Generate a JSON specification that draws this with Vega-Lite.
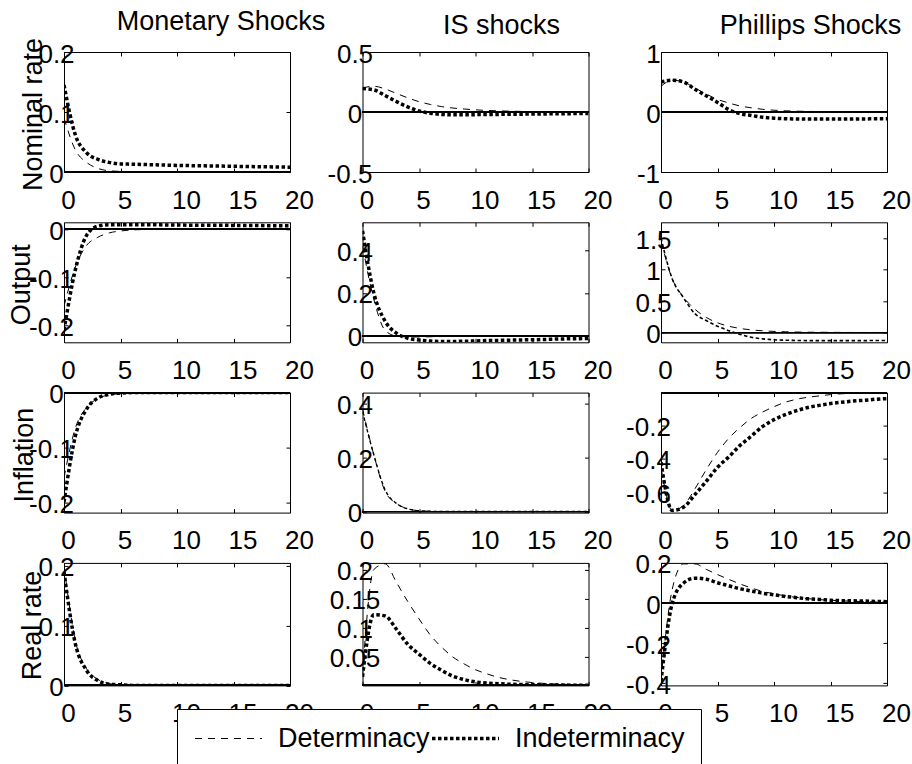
{
"$schema": "https://vega.github.io/schema/vega-lite/v6.json",
"autosize": {"type": "none"},
"padding": {"left": 64, "top": 52, "right": 848, "bottom": 712},
"background": "white",
"datasets": {
"p11": [{"t":0,"Determinacy":0.09,"Indeterminacy":0.145},{"t":1,"Determinacy":0.037,"Indeterminacy":0.062},{"t":2,"Determinacy":0.016,"Indeterminacy":0.032},{"t":3,"Determinacy":0.006,"Indeterminacy":0.021},{"t":4,"Determinacy":0.002,"Indeterminacy":0.016},{"t":5,"Determinacy":0.001,"Indeterminacy":0.0135},{"t":6,"Determinacy":0,"Indeterminacy":0.013},{"t":7,"Determinacy":0,"Indeterminacy":0.0125},{"t":8,"Determinacy":0,"Indeterminacy":0.012},{"t":9,"Determinacy":0,"Indeterminacy":0.0115},{"t":10,"Determinacy":0,"Indeterminacy":0.011},{"t":11,"Determinacy":0,"Indeterminacy":0.0107},{"t":12,"Determinacy":0,"Indeterminacy":0.0104},{"t":13,"Determinacy":0,"Indeterminacy":0.0101},{"t":14,"Determinacy":0,"Indeterminacy":0.0098},{"t":15,"Determinacy":0,"Indeterminacy":0.0095},{"t":16,"Determinacy":0,"Indeterminacy":0.0092},{"t":17,"Determinacy":0,"Indeterminacy":0.0089},{"t":18,"Determinacy":0,"Indeterminacy":0.0086},{"t":19,"Determinacy":0,"Indeterminacy":0.0083},{"t":20,"Determinacy":0,"Indeterminacy":0.008}],
"p12": [{"t":0,"Determinacy":0.2,"Indeterminacy":0.195},{"t":1,"Determinacy":0.215,"Indeterminacy":0.185},{"t":2,"Determinacy":0.192,"Indeterminacy":0.137},{"t":3,"Determinacy":0.155,"Indeterminacy":0.087},{"t":4,"Determinacy":0.118,"Indeterminacy":0.042},{"t":5,"Determinacy":0.086,"Indeterminacy":0.008},{"t":6,"Determinacy":0.063,"Indeterminacy":-0.01},{"t":7,"Determinacy":0.045,"Indeterminacy":-0.02},{"t":8,"Determinacy":0.033,"Indeterminacy":-0.023},{"t":9,"Determinacy":0.025,"Indeterminacy":-0.023},{"t":10,"Determinacy":0.018,"Indeterminacy":-0.022},{"t":11,"Determinacy":0.013,"Indeterminacy":-0.021},{"t":12,"Determinacy":0.01,"Indeterminacy":-0.02},{"t":13,"Determinacy":0.007,"Indeterminacy":-0.019},{"t":14,"Determinacy":0.005,"Indeterminacy":-0.018},{"t":15,"Determinacy":0.004,"Indeterminacy":-0.017},{"t":16,"Determinacy":0.003,"Indeterminacy":-0.016},{"t":17,"Determinacy":0.002,"Indeterminacy":-0.015},{"t":18,"Determinacy":0.002,"Indeterminacy":-0.014},{"t":19,"Determinacy":0.001,"Indeterminacy":-0.013},{"t":20,"Determinacy":0.001,"Indeterminacy":-0.012}],
"p13": [{"t":0,"Determinacy":0.43,"Indeterminacy":0.5},{"t":1,"Determinacy":0.53,"Indeterminacy":0.53},{"t":2,"Determinacy":0.5,"Indeterminacy":0.5},{"t":3,"Determinacy":0.4,"Indeterminacy":0.38},{"t":4,"Determinacy":0.3,"Indeterminacy":0.27},{"t":5,"Determinacy":0.21,"Indeterminacy":0.16},{"t":6,"Determinacy":0.15,"Indeterminacy":0.04},{"t":7,"Determinacy":0.1,"Indeterminacy":-0.03},{"t":8,"Determinacy":0.07,"Indeterminacy":-0.058},{"t":9,"Determinacy":0.045,"Indeterminacy":-0.088},{"t":10,"Determinacy":0.03,"Indeterminacy":-0.103},{"t":11,"Determinacy":0.02,"Indeterminacy":-0.112},{"t":12,"Determinacy":0.014,"Indeterminacy":-0.116},{"t":13,"Determinacy":0.01,"Indeterminacy":-0.118},{"t":14,"Determinacy":0.007,"Indeterminacy":-0.118},{"t":15,"Determinacy":0.005,"Indeterminacy":-0.118},{"t":16,"Determinacy":0.004,"Indeterminacy":-0.117},{"t":17,"Determinacy":0.003,"Indeterminacy":-0.116},{"t":18,"Determinacy":0.002,"Indeterminacy":-0.115},{"t":19,"Determinacy":0.001,"Indeterminacy":-0.114},{"t":20,"Determinacy":0.001,"Indeterminacy":-0.113}],
"p21": [{"t":0,"Determinacy":-0.16,"Indeterminacy":-0.21},{"t":1,"Determinacy":-0.079,"Indeterminacy":-0.085},{"t":2,"Determinacy":-0.034,"Indeterminacy":-0.013},{"t":3,"Determinacy":-0.017,"Indeterminacy":0.006},{"t":4,"Determinacy":-0.008,"Indeterminacy":0.009},{"t":5,"Determinacy":-0.004,"Indeterminacy":0.009},{"t":6,"Determinacy":-0.002,"Indeterminacy":0.009},{"t":7,"Determinacy":-0.001,"Indeterminacy":0.009},{"t":8,"Determinacy":-0.001,"Indeterminacy":0.009},{"t":9,"Determinacy":0,"Indeterminacy":0.0085},{"t":10,"Determinacy":0,"Indeterminacy":0.0085},{"t":11,"Determinacy":0,"Indeterminacy":0.008},{"t":12,"Determinacy":0,"Indeterminacy":0.008},{"t":13,"Determinacy":0,"Indeterminacy":0.008},{"t":14,"Determinacy":0,"Indeterminacy":0.008},{"t":15,"Determinacy":0,"Indeterminacy":0.0075},{"t":16,"Determinacy":0,"Indeterminacy":0.0075},{"t":17,"Determinacy":0,"Indeterminacy":0.0075},{"t":18,"Determinacy":0,"Indeterminacy":0.007},{"t":19,"Determinacy":0,"Indeterminacy":0.007},{"t":20,"Determinacy":0,"Indeterminacy":0.007}],
"p22": [{"t":0,"Determinacy":0.42,"Indeterminacy":0.49},{"t":1,"Determinacy":0.17,"Indeterminacy":0.2},{"t":2,"Determinacy":0.025,"Indeterminacy":0.068},{"t":3,"Determinacy":-0.002,"Indeterminacy":0.012},{"t":4,"Determinacy":-0.006,"Indeterminacy":-0.012},{"t":5,"Determinacy":-0.006,"Indeterminacy":-0.02},{"t":6,"Determinacy":-0.005,"Indeterminacy":-0.025},{"t":7,"Determinacy":-0.004,"Indeterminacy":-0.027},{"t":8,"Determinacy":-0.003,"Indeterminacy":-0.027},{"t":9,"Determinacy":-0.002,"Indeterminacy":-0.026},{"t":10,"Determinacy":-0.002,"Indeterminacy":-0.025},{"t":11,"Determinacy":-0.001,"Indeterminacy":-0.023},{"t":12,"Determinacy":-0.001,"Indeterminacy":-0.022},{"t":13,"Determinacy":-0.001,"Indeterminacy":-0.021},{"t":14,"Determinacy":0,"Indeterminacy":-0.02},{"t":15,"Determinacy":0,"Indeterminacy":-0.019},{"t":16,"Determinacy":0,"Indeterminacy":-0.018},{"t":17,"Determinacy":0,"Indeterminacy":-0.016},{"t":18,"Determinacy":0,"Indeterminacy":-0.015},{"t":19,"Determinacy":0,"Indeterminacy":-0.014},{"t":20,"Determinacy":0,"Indeterminacy":-0.013}],
"p23": [{"t":0,"Determinacy":1.45,"Indeterminacy":1.5},{"t":1,"Determinacy":0.85,"Indeterminacy":0.85},{"t":2,"Determinacy":0.56,"Indeterminacy":0.55},{"t":3,"Determinacy":0.37,"Indeterminacy":0.3},{"t":4,"Determinacy":0.24,"Indeterminacy":0.19},{"t":5,"Determinacy":0.155,"Indeterminacy":0.1},{"t":6,"Determinacy":0.1,"Indeterminacy":0.03},{"t":7,"Determinacy":0.065,"Indeterminacy":-0.03},{"t":8,"Determinacy":0.042,"Indeterminacy":-0.075},{"t":9,"Determinacy":0.028,"Indeterminacy":-0.1},{"t":10,"Determinacy":0.018,"Indeterminacy":-0.115},{"t":11,"Determinacy":0.012,"Indeterminacy":-0.122},{"t":12,"Determinacy":0.008,"Indeterminacy":-0.126},{"t":13,"Determinacy":0.005,"Indeterminacy":-0.128},{"t":14,"Determinacy":0.004,"Indeterminacy":-0.129},{"t":15,"Determinacy":0.003,"Indeterminacy":-0.129},{"t":16,"Determinacy":0.002,"Indeterminacy":-0.129},{"t":17,"Determinacy":0.001,"Indeterminacy":-0.128},{"t":18,"Determinacy":0.001,"Indeterminacy":-0.128},{"t":19,"Determinacy":0.001,"Indeterminacy":-0.127},{"t":20,"Determinacy":0,"Indeterminacy":-0.127}],
"p31": [{"t":0,"Determinacy":-0.155,"Indeterminacy":-0.2},{"t":1,"Determinacy":-0.065,"Indeterminacy":-0.08},{"t":2,"Determinacy":-0.027,"Indeterminacy":-0.03},{"t":3,"Determinacy":-0.011,"Indeterminacy":-0.01},{"t":4,"Determinacy":-0.004,"Indeterminacy":-0.003},{"t":5,"Determinacy":-0.002,"Indeterminacy":-0.001},{"t":6,"Determinacy":-0.001,"Indeterminacy":0},{"t":7,"Determinacy":0,"Indeterminacy":0},{"t":8,"Determinacy":0,"Indeterminacy":0},{"t":9,"Determinacy":0,"Indeterminacy":0},{"t":10,"Determinacy":0,"Indeterminacy":0},{"t":11,"Determinacy":0,"Indeterminacy":0},{"t":12,"Determinacy":0,"Indeterminacy":0},{"t":13,"Determinacy":0,"Indeterminacy":0},{"t":14,"Determinacy":0,"Indeterminacy":0},{"t":15,"Determinacy":0,"Indeterminacy":0},{"t":16,"Determinacy":0,"Indeterminacy":0},{"t":17,"Determinacy":0,"Indeterminacy":0},{"t":18,"Determinacy":0,"Indeterminacy":0},{"t":19,"Determinacy":0,"Indeterminacy":0},{"t":20,"Determinacy":0,"Indeterminacy":0}],
"p32": [{"t":0,"Determinacy":0.38,"Indeterminacy":0.37},{"t":1,"Determinacy":0.21,"Indeterminacy":0.21},{"t":2,"Determinacy":0.075,"Indeterminacy":0.08},{"t":3,"Determinacy":0.03,"Indeterminacy":0.03},{"t":4,"Determinacy":0.01,"Indeterminacy":0.01},{"t":5,"Determinacy":0.003,"Indeterminacy":0.003},{"t":6,"Determinacy":0.001,"Indeterminacy":0.001},{"t":7,"Determinacy":0,"Indeterminacy":0},{"t":8,"Determinacy":0,"Indeterminacy":0},{"t":9,"Determinacy":0,"Indeterminacy":0},{"t":10,"Determinacy":0,"Indeterminacy":0},{"t":11,"Determinacy":0,"Indeterminacy":0},{"t":12,"Determinacy":0,"Indeterminacy":0},{"t":13,"Determinacy":0,"Indeterminacy":0},{"t":14,"Determinacy":0,"Indeterminacy":0},{"t":15,"Determinacy":0,"Indeterminacy":0},{"t":16,"Determinacy":0,"Indeterminacy":0},{"t":17,"Determinacy":0,"Indeterminacy":0},{"t":18,"Determinacy":0,"Indeterminacy":0},{"t":19,"Determinacy":0,"Indeterminacy":0},{"t":20,"Determinacy":0,"Indeterminacy":0}],
"p33": [{"t":0,"Determinacy":-0.45,"Indeterminacy":-0.42},{"t":1,"Determinacy":-0.71,"Indeterminacy":-0.71},{"t":2,"Determinacy":-0.68,"Indeterminacy":-0.69},{"t":3,"Determinacy":-0.58,"Indeterminacy":-0.615},{"t":4,"Determinacy":-0.465,"Indeterminacy":-0.535},{"t":5,"Determinacy":-0.36,"Indeterminacy":-0.45},{"t":6,"Determinacy":-0.275,"Indeterminacy":-0.387},{"t":7,"Determinacy":-0.21,"Indeterminacy":-0.318},{"t":8,"Determinacy":-0.155,"Indeterminacy":-0.262},{"t":9,"Determinacy":-0.117,"Indeterminacy":-0.204},{"t":10,"Determinacy":-0.085,"Indeterminacy":-0.163},{"t":11,"Determinacy":-0.058,"Indeterminacy":-0.133},{"t":12,"Determinacy":-0.04,"Indeterminacy":-0.109},{"t":13,"Determinacy":-0.028,"Indeterminacy":-0.09},{"t":14,"Determinacy":-0.02,"Indeterminacy":-0.077},{"t":15,"Determinacy":-0.012,"Indeterminacy":-0.066},{"t":16,"Determinacy":-0.007,"Indeterminacy":-0.058},{"t":17,"Determinacy":-0.004,"Indeterminacy":-0.051},{"t":18,"Determinacy":-0.003,"Indeterminacy":-0.046},{"t":19,"Determinacy":-0.002,"Indeterminacy":-0.04},{"t":20,"Determinacy":-0.001,"Indeterminacy":-0.036}],
"p41": [{"t":0,"Determinacy":0.2,"Indeterminacy":0.19},{"t":1,"Determinacy":0.075,"Indeterminacy":0.07},{"t":2,"Determinacy":0.028,"Indeterminacy":0.025},{"t":3,"Determinacy":0.01,"Indeterminacy":0.008},{"t":4,"Determinacy":0.003,"Indeterminacy":0.002},{"t":5,"Determinacy":0.001,"Indeterminacy":0.001},{"t":6,"Determinacy":0,"Indeterminacy":0},{"t":7,"Determinacy":0,"Indeterminacy":0},{"t":8,"Determinacy":0,"Indeterminacy":0},{"t":9,"Determinacy":0,"Indeterminacy":0},{"t":10,"Determinacy":0,"Indeterminacy":0},{"t":11,"Determinacy":0,"Indeterminacy":0},{"t":12,"Determinacy":0,"Indeterminacy":0},{"t":13,"Determinacy":0,"Indeterminacy":0},{"t":14,"Determinacy":0,"Indeterminacy":0},{"t":15,"Determinacy":0,"Indeterminacy":0},{"t":16,"Determinacy":0,"Indeterminacy":0},{"t":17,"Determinacy":0,"Indeterminacy":0},{"t":18,"Determinacy":0,"Indeterminacy":0},{"t":19,"Determinacy":0,"Indeterminacy":0},{"t":20,"Determinacy":0,"Indeterminacy":0}],
"p42": [{"t":0,"Determinacy":0.02,"Indeterminacy":0.015},{"t":1,"Determinacy":0.2,"Indeterminacy":0.122},{"t":2,"Determinacy":0.21,"Indeterminacy":0.12},{"t":3,"Determinacy":0.178,"Indeterminacy":0.097},{"t":4,"Determinacy":0.145,"Indeterminacy":0.071},{"t":5,"Determinacy":0.115,"Indeterminacy":0.054},{"t":6,"Determinacy":0.087,"Indeterminacy":0.038},{"t":7,"Determinacy":0.066,"Indeterminacy":0.026},{"t":8,"Determinacy":0.049,"Indeterminacy":0.016},{"t":9,"Determinacy":0.037,"Indeterminacy":0.01},{"t":10,"Determinacy":0.027,"Indeterminacy":0.006},{"t":11,"Determinacy":0.02,"Indeterminacy":0.004},{"t":12,"Determinacy":0.014,"Indeterminacy":0.003},{"t":13,"Determinacy":0.01,"Indeterminacy":0.002},{"t":14,"Determinacy":0.007,"Indeterminacy":0.0015},{"t":15,"Determinacy":0.005,"Indeterminacy":0.001},{"t":16,"Determinacy":0.0035,"Indeterminacy":0.001},{"t":17,"Determinacy":0.0025,"Indeterminacy":0.0005},{"t":18,"Determinacy":0.0018,"Indeterminacy":0.0005},{"t":19,"Determinacy":0.0012,"Indeterminacy":0.0003},{"t":20,"Determinacy":0.001,"Indeterminacy":0.0002}],
"p43": [{"t":0,"Determinacy":-0.38,"Indeterminacy":-0.39},{"t":1,"Determinacy":0.07,"Indeterminacy":0.0},{"t":2,"Determinacy":0.195,"Indeterminacy":0.1},{"t":3,"Determinacy":0.195,"Indeterminacy":0.124},{"t":4,"Determinacy":0.168,"Indeterminacy":0.119},{"t":5,"Determinacy":0.142,"Indeterminacy":0.101},{"t":6,"Determinacy":0.118,"Indeterminacy":0.086},{"t":7,"Determinacy":0.095,"Indeterminacy":0.071},{"t":8,"Determinacy":0.075,"Indeterminacy":0.06},{"t":9,"Determinacy":0.058,"Indeterminacy":0.049},{"t":10,"Determinacy":0.046,"Indeterminacy":0.041},{"t":11,"Determinacy":0.036,"Indeterminacy":0.033},{"t":12,"Determinacy":0.028,"Indeterminacy":0.027},{"t":13,"Determinacy":0.022,"Indeterminacy":0.021},{"t":14,"Determinacy":0.017,"Indeterminacy":0.018},{"t":15,"Determinacy":0.014,"Indeterminacy":0.014},{"t":16,"Determinacy":0.011,"Indeterminacy":0.012},{"t":17,"Determinacy":0.009,"Indeterminacy":0.011},{"t":18,"Determinacy":0.007,"Indeterminacy":0.01},{"t":19,"Determinacy":0.006,"Indeterminacy":0.008},{"t":20,"Determinacy":0.005,"Indeterminacy":0.007}]
},
"columns": 3,
"spacing": {"row": 50.3, "column": 72.5},
"bounds": "flush",
"concat": [
{"width":226,"height":120,"data":{"name":"p11"},"transform":[{"fold":["Determinacy","Indeterminacy"],"as":["regime","v"]}],
"title":{"text":"Monetary Shocks","frame":"group","anchor":"middle","dx":44,"offset":-20,"baseline":"alphabetic","fontSize":27,"fontWeight":"normal","color":"black","font":"Liberation Sans"},
"layer":[
{"mark":{"type":"rule","color":"black","strokeWidth":1},"encoding":{"y":{"datum":0,"type":"quantitative","scale":{"domain":[0,0.2],"nice":false,"zero":false},"axis":{"orient":"right","labels":false,"title":null,"values":[0,0.1,0.2]}}}},
{"transform":[{"filter":"datum.regime==='Determinacy'"}],"mark":{"type":"line","color":"black","clip":true,"interpolate":"monotone"},"encoding":{
"x":{"field":"t","type":"quantitative","scale":{"domain":[0,20],"nice":false},"axis":{"orient":"bottom","values":[0,5,10,15,20],"labelAlign":"center","labelBaseline":"top","labelPadding":19,"labelOffset":{"condition":{"test":"datum.value >= 10","value":9},"value":4},"title":null}},
"y":{"field":"v","type":"quantitative","scale":{"domain":[0,0.2],"nice":false,"zero":false},"axis":{"orient":"left","values":[0,0.1,0.2],"labelAlign":"center","labelBaseline":"middle","labelOffset":2,"labelPadding":{"condition":{"test":"datum.value < 0","value":17},"value":12},"labelExpr":"'' + datum.value","title":"Nominal rate","titleX":-22.6,"titleY":62}},
"strokeDash":{"field":"regime","type":"nominal","scale":{"domain":["Determinacy","Indeterminacy"],"range":[[7,6],[3.5,2.5]]},"legend":{"title":null,"orient":"none","legendX":113,"legendY":657}},
"strokeWidth":{"field":"regime","type":"ordinal","scale":{"domain":["Determinacy","Indeterminacy"],"range":[1,3.5]},"legend":{"title":null,"orient":"none","legendX":113,"legendY":657}}}},
{"transform":[{"filter":"datum.regime==='Indeterminacy'"}],"mark":{"type":"line","color":"black","clip":true,"interpolate":"monotone"},"encoding":{
"x":{"field":"t","type":"quantitative","scale":{"domain":[0,20],"nice":false},"axis":{"orient":"top","labels":false,"values":[0,5,10,15,20],"title":null}},
"y":{"field":"v","type":"quantitative","scale":{"domain":[0,0.2],"nice":false,"zero":false},"axis":null},
"strokeDash":{"field":"regime","type":"nominal","scale":{"domain":["Determinacy","Indeterminacy"],"range":[[7,6],[3.5,2.5]]},"legend":{"title":null}},
"strokeWidth":{"field":"regime","type":"ordinal","scale":{"domain":["Determinacy","Indeterminacy"],"range":[1,3.5]},"legend":{"title":null}}}}
],"resolve":{"axis":{"x":"independent","y":"independent"}}},

{"width":226,"height":120,"data":{"name":"p12"},"transform":[{"fold":["Determinacy","Indeterminacy"],"as":["regime","v"]}],
"title":{"text":"IS shocks","frame":"group","anchor":"middle","dx":26,"offset":-20,"baseline":"alphabetic","fontSize":27,"fontWeight":"normal","color":"black","font":"Liberation Sans"},
"layer":[
{"mark":{"type":"rule","color":"black","strokeWidth":1},"encoding":{"y":{"datum":0,"type":"quantitative","scale":{"domain":[-0.5,0.5],"nice":false,"zero":false},"axis":{"orient":"right","labels":false,"title":null,"values":[-0.5,0,0.5]}}}},
{"transform":[{"filter":"datum.regime==='Determinacy'"}],"mark":{"type":"line","color":"black","clip":true,"interpolate":"monotone"},"encoding":{
"x":{"field":"t","type":"quantitative","scale":{"domain":[0,20],"nice":false},"axis":{"orient":"bottom","values":[0,5,10,15,20],"labelAlign":"center","labelBaseline":"top","labelPadding":19,"labelOffset":{"condition":{"test":"datum.value >= 10","value":9},"value":4},"title":null}},
"y":{"field":"v","type":"quantitative","scale":{"domain":[-0.5,0.5],"nice":false,"zero":false},"axis":{"orient":"left","values":[-0.5,0,0.5],"labelAlign":"center","labelBaseline":"middle","labelOffset":2,"labelPadding":{"condition":{"test":"datum.value < 0","value":17},"value":12},"labelExpr":"'' + datum.value","title":null}},
"strokeDash":{"field":"regime","type":"nominal","scale":{"domain":["Determinacy","Indeterminacy"],"range":[[7,6],[3.5,2.5]]},"legend":{"title":null}},
"strokeWidth":{"field":"regime","type":"ordinal","scale":{"domain":["Determinacy","Indeterminacy"],"range":[1,3.5]},"legend":{"title":null}}}},
{"transform":[{"filter":"datum.regime==='Indeterminacy'"}],"mark":{"type":"line","color":"black","clip":true,"interpolate":"monotone"},"encoding":{
"x":{"field":"t","type":"quantitative","scale":{"domain":[0,20],"nice":false},"axis":{"orient":"top","labels":false,"values":[0,5,10,15,20],"title":null}},
"y":{"field":"v","type":"quantitative","scale":{"domain":[-0.5,0.5],"nice":false,"zero":false},"axis":null},
"strokeDash":{"field":"regime","type":"nominal","scale":{"domain":["Determinacy","Indeterminacy"],"range":[[7,6],[3.5,2.5]]},"legend":{"title":null}},
"strokeWidth":{"field":"regime","type":"ordinal","scale":{"domain":["Determinacy","Indeterminacy"],"range":[1,3.5]},"legend":{"title":null}}}}
],"resolve":{"axis":{"x":"independent","y":"independent"}}},

{"width":226,"height":120,"data":{"name":"p13"},"transform":[{"fold":["Determinacy","Indeterminacy"],"as":["regime","v"]}],
"title":{"text":"Phillips Shocks","frame":"group","anchor":"middle","dx":36.5,"offset":-20,"baseline":"alphabetic","fontSize":27,"fontWeight":"normal","color":"black","font":"Liberation Sans"},
"layer":[
{"mark":{"type":"rule","color":"black","strokeWidth":1},"encoding":{"y":{"datum":0,"type":"quantitative","scale":{"domain":[-1,1],"nice":false,"zero":false},"axis":{"orient":"right","labels":false,"title":null,"values":[-1,0,1]}}}},
{"transform":[{"filter":"datum.regime==='Determinacy'"}],"mark":{"type":"line","color":"black","clip":true,"interpolate":"monotone"},"encoding":{
"x":{"field":"t","type":"quantitative","scale":{"domain":[0,20],"nice":false},"axis":{"orient":"bottom","values":[0,5,10,15,20],"labelAlign":"center","labelBaseline":"top","labelPadding":19,"labelOffset":{"condition":{"test":"datum.value >= 10","value":9},"value":4},"title":null}},
"y":{"field":"v","type":"quantitative","scale":{"domain":[-1,1],"nice":false,"zero":false},"axis":{"orient":"left","values":[-1,0,1],"labelAlign":"center","labelBaseline":"middle","labelOffset":2,"labelPadding":{"condition":{"test":"datum.value < 0","value":17},"value":12},"labelExpr":"'' + datum.value","title":null}},
"strokeDash":{"field":"regime","type":"nominal","scale":{"domain":["Determinacy","Indeterminacy"],"range":[[7,6],[3.5,2.5]]},"legend":{"title":null}},
"strokeWidth":{"field":"regime","type":"ordinal","scale":{"domain":["Determinacy","Indeterminacy"],"range":[1,3.5]},"legend":{"title":null}}}},
{"transform":[{"filter":"datum.regime==='Indeterminacy'"}],"mark":{"type":"line","color":"black","clip":true,"interpolate":"monotone"},"encoding":{
"x":{"field":"t","type":"quantitative","scale":{"domain":[0,20],"nice":false},"axis":{"orient":"top","labels":false,"values":[0,5,10,15,20],"title":null}},
"y":{"field":"v","type":"quantitative","scale":{"domain":[-1,1],"nice":false,"zero":false},"axis":null},
"strokeDash":{"field":"regime","type":"nominal","scale":{"domain":["Determinacy","Indeterminacy"],"range":[[7,6],[3.5,2.5]]},"legend":{"title":null}},
"strokeWidth":{"field":"regime","type":"ordinal","scale":{"domain":["Determinacy","Indeterminacy"],"range":[1,3.5]},"legend":{"title":null}}}}
],"resolve":{"axis":{"x":"independent","y":"independent"}}},

{"width":226,"height":120,"data":{"name":"p21"},"transform":[{"fold":["Determinacy","Indeterminacy"],"as":["regime","v"]}],
"layer":[
{"mark":{"type":"rule","color":"black","strokeWidth":1},"encoding":{"y":{"datum":0,"type":"quantitative","scale":{"domain":[-0.235,0.014],"nice":false,"zero":false},"axis":{"orient":"right","labels":false,"title":null,"values":[-0.2,-0.1,0]}}}},
{"transform":[{"filter":"datum.regime==='Determinacy'"}],"mark":{"type":"line","color":"black","clip":true,"interpolate":"monotone"},"encoding":{
"x":{"field":"t","type":"quantitative","scale":{"domain":[0,20],"nice":false},"axis":{"orient":"bottom","values":[0,5,10,15,20],"labelAlign":"center","labelBaseline":"top","labelPadding":19,"labelOffset":{"condition":{"test":"datum.value >= 10","value":9},"value":4},"title":null}},
"y":{"field":"v","type":"quantitative","scale":{"domain":[-0.235,0.014],"nice":false,"zero":false},"axis":{"orient":"left","values":[-0.2,-0.1,0],"labelAlign":"center","labelBaseline":"middle","labelOffset":2,"labelPadding":{"condition":{"test":"datum.value < 0","value":17},"value":12},"labelExpr":"'' + datum.value","title":"Output","titleX":-34.4,"titleY":62}},
"strokeDash":{"field":"regime","type":"nominal","scale":{"domain":["Determinacy","Indeterminacy"],"range":[[7,6],[3.5,2.5]]},"legend":{"title":null}},
"strokeWidth":{"field":"regime","type":"ordinal","scale":{"domain":["Determinacy","Indeterminacy"],"range":[1,3.5]},"legend":{"title":null}}}},
{"transform":[{"filter":"datum.regime==='Indeterminacy'"}],"mark":{"type":"line","color":"black","clip":true,"interpolate":"monotone"},"encoding":{
"x":{"field":"t","type":"quantitative","scale":{"domain":[0,20],"nice":false},"axis":{"orient":"top","labels":false,"values":[0,5,10,15,20],"title":null}},
"y":{"field":"v","type":"quantitative","scale":{"domain":[-0.235,0.014],"nice":false,"zero":false},"axis":null},
"strokeDash":{"field":"regime","type":"nominal","scale":{"domain":["Determinacy","Indeterminacy"],"range":[[7,6],[3.5,2.5]]},"legend":{"title":null}},
"strokeWidth":{"field":"regime","type":"ordinal","scale":{"domain":["Determinacy","Indeterminacy"],"range":[1,3.5]},"legend":{"title":null}}}}
],"resolve":{"axis":{"x":"independent","y":"independent"}}},

{"width":226,"height":120,"data":{"name":"p22"},"transform":[{"fold":["Determinacy","Indeterminacy"],"as":["regime","v"]}],
"layer":[
{"mark":{"type":"rule","color":"black","strokeWidth":1},"encoding":{"y":{"datum":0,"type":"quantitative","scale":{"domain":[-0.031,0.53],"nice":false,"zero":false},"axis":{"orient":"right","labels":false,"title":null,"values":[0,0.2,0.4]}}}},
{"transform":[{"filter":"datum.regime==='Determinacy'"}],"mark":{"type":"line","color":"black","clip":true,"interpolate":"monotone"},"encoding":{
"x":{"field":"t","type":"quantitative","scale":{"domain":[0,20],"nice":false},"axis":{"orient":"bottom","values":[0,5,10,15,20],"labelAlign":"center","labelBaseline":"top","labelPadding":19,"labelOffset":{"condition":{"test":"datum.value >= 10","value":9},"value":4},"title":null}},
"y":{"field":"v","type":"quantitative","scale":{"domain":[-0.031,0.53],"nice":false,"zero":false},"axis":{"orient":"left","values":[0,0.2,0.4],"labelAlign":"center","labelBaseline":"middle","labelOffset":2,"labelPadding":{"condition":{"test":"datum.value < 0","value":17},"value":12},"labelExpr":"'' + datum.value","title":null}},
"strokeDash":{"field":"regime","type":"nominal","scale":{"domain":["Determinacy","Indeterminacy"],"range":[[7,6],[3.5,2.5]]},"legend":{"title":null}},
"strokeWidth":{"field":"regime","type":"ordinal","scale":{"domain":["Determinacy","Indeterminacy"],"range":[1,3.5]},"legend":{"title":null}}}},
{"transform":[{"filter":"datum.regime==='Indeterminacy'"}],"mark":{"type":"line","color":"black","clip":true,"interpolate":"monotone"},"encoding":{
"x":{"field":"t","type":"quantitative","scale":{"domain":[0,20],"nice":false},"axis":{"orient":"top","labels":false,"values":[0,5,10,15,20],"title":null}},
"y":{"field":"v","type":"quantitative","scale":{"domain":[-0.031,0.53],"nice":false,"zero":false},"axis":null},
"strokeDash":{"field":"regime","type":"nominal","scale":{"domain":["Determinacy","Indeterminacy"],"range":[[7,6],[3.5,2.5]]},"legend":{"title":null}},
"strokeWidth":{"field":"regime","type":"ordinal","scale":{"domain":["Determinacy","Indeterminacy"],"range":[1,3.5]},"legend":{"title":null}}}}
],"resolve":{"axis":{"x":"independent","y":"independent"}}},

{"width":226,"height":120,"data":{"name":"p23"},"transform":[{"fold":["Determinacy","Indeterminacy"],"as":["regime","v"]}],
"layer":[
{"mark":{"type":"rule","color":"black","strokeWidth":1},"encoding":{"y":{"datum":0,"type":"quantitative","scale":{"domain":[-0.155,1.75],"nice":false,"zero":false},"axis":{"orient":"right","labels":false,"title":null,"values":[0,0.5,1,1.5]}}}},
{"transform":[{"filter":"datum.regime==='Determinacy'"}],"mark":{"type":"line","color":"black","clip":true,"interpolate":"monotone"},"encoding":{
"x":{"field":"t","type":"quantitative","scale":{"domain":[0,20],"nice":false},"axis":{"orient":"bottom","values":[0,5,10,15,20],"labelAlign":"center","labelBaseline":"top","labelPadding":19,"labelOffset":{"condition":{"test":"datum.value >= 10","value":9},"value":4},"title":null}},
"y":{"field":"v","type":"quantitative","scale":{"domain":[-0.155,1.75],"nice":false,"zero":false},"axis":{"orient":"left","values":[0,0.5,1,1.5],"labelAlign":"center","labelBaseline":"middle","labelOffset":2,"labelPadding":{"condition":{"test":"datum.value < 0","value":17},"value":12},"labelExpr":"'' + datum.value","title":null}},
"strokeDash":{"field":"regime","type":"nominal","scale":{"domain":["Determinacy","Indeterminacy"],"range":[[7,6],[3.5,2.5]]},"legend":{"title":null}},
"strokeWidth":{"field":"regime","type":"ordinal","scale":{"domain":["Determinacy","Indeterminacy"],"range":[1,3.5]},"legend":{"title":null}}}},
{"transform":[{"filter":"datum.regime==='Indeterminacy'"}],"mark":{"type":"line","color":"black","clip":true,"interpolate":"monotone","strokeWidth":1.6},"encoding":{
"x":{"field":"t","type":"quantitative","scale":{"domain":[0,20],"nice":false},"axis":{"orient":"top","labels":false,"values":[0,5,10,15,20],"title":null}},
"y":{"field":"v","type":"quantitative","scale":{"domain":[-0.155,1.75],"nice":false,"zero":false},"axis":null},
"strokeDash":{"field":"regime","type":"nominal","scale":{"domain":["Determinacy","Indeterminacy"],"range":[[7,6],[3.5,2.5]]},"legend":{"title":null}}}}
],"resolve":{"axis":{"x":"independent","y":"independent"}}},

{"width":226,"height":120,"data":{"name":"p31"},"transform":[{"fold":["Determinacy","Indeterminacy"],"as":["regime","v"]}],
"layer":[
{"mark":{"type":"rule","color":"black","strokeWidth":1},"encoding":{"y":{"datum":0,"type":"quantitative","scale":{"domain":[-0.219,0],"nice":false,"zero":false},"axis":{"orient":"right","labels":false,"title":null,"values":[-0.2,-0.1,0]}}}},
{"transform":[{"filter":"datum.regime==='Determinacy'"}],"mark":{"type":"line","color":"black","clip":true,"interpolate":"monotone"},"encoding":{
"x":{"field":"t","type":"quantitative","scale":{"domain":[0,20],"nice":false},"axis":{"orient":"bottom","values":[0,5,10,15,20],"labelAlign":"center","labelBaseline":"top","labelPadding":19,"labelOffset":{"condition":{"test":"datum.value >= 10","value":9},"value":4},"title":null}},
"y":{"field":"v","type":"quantitative","scale":{"domain":[-0.219,0],"nice":false,"zero":false},"axis":{"orient":"left","values":[-0.2,-0.1,0],"labelAlign":"center","labelBaseline":"middle","labelOffset":2,"labelPadding":{"condition":{"test":"datum.value < 0","value":17},"value":12},"labelExpr":"'' + datum.value","title":"Inflation","titleX":-31.2,"titleY":62}},
"strokeDash":{"field":"regime","type":"nominal","scale":{"domain":["Determinacy","Indeterminacy"],"range":[[7,6],[3.5,2.5]]},"legend":{"title":null}},
"strokeWidth":{"field":"regime","type":"ordinal","scale":{"domain":["Determinacy","Indeterminacy"],"range":[1,3.5]},"legend":{"title":null}}}},
{"transform":[{"filter":"datum.regime==='Indeterminacy'"}],"mark":{"type":"line","color":"black","clip":true,"interpolate":"monotone"},"encoding":{
"x":{"field":"t","type":"quantitative","scale":{"domain":[0,20],"nice":false},"axis":{"orient":"top","labels":false,"values":[0,5,10,15,20],"title":null}},
"y":{"field":"v","type":"quantitative","scale":{"domain":[-0.219,0],"nice":false,"zero":false},"axis":null},
"strokeDash":{"field":"regime","type":"nominal","scale":{"domain":["Determinacy","Indeterminacy"],"range":[[7,6],[3.5,2.5]]},"legend":{"title":null}},
"strokeWidth":{"field":"regime","type":"ordinal","scale":{"domain":["Determinacy","Indeterminacy"],"range":[1,3.5]},"legend":{"title":null}}}}
],"resolve":{"axis":{"x":"independent","y":"independent"}}},

{"width":226,"height":120,"data":{"name":"p32"},"transform":[{"fold":["Determinacy","Indeterminacy"],"as":["regime","v"]}],
"layer":[
{"mark":{"type":"rule","color":"black","strokeWidth":1},"encoding":{"y":{"datum":0,"type":"quantitative","scale":{"domain":[-0.004,0.44],"nice":false,"zero":false},"axis":{"orient":"right","labels":false,"title":null,"values":[0,0.2,0.4]}}}},
{"transform":[{"filter":"datum.regime==='Determinacy'"}],"mark":{"type":"line","color":"black","clip":true,"interpolate":"monotone"},"encoding":{
"x":{"field":"t","type":"quantitative","scale":{"domain":[0,20],"nice":false},"axis":{"orient":"bottom","values":[0,5,10,15,20],"labelAlign":"center","labelBaseline":"top","labelPadding":19,"labelOffset":{"condition":{"test":"datum.value >= 10","value":9},"value":4},"title":null}},
"y":{"field":"v","type":"quantitative","scale":{"domain":[-0.004,0.44],"nice":false,"zero":false},"axis":{"orient":"left","values":[0,0.2,0.4],"labelAlign":"center","labelBaseline":"middle","labelOffset":2,"labelPadding":{"condition":{"test":"datum.value < 0","value":17},"value":12},"labelExpr":"'' + datum.value","title":null}},
"strokeDash":{"field":"regime","type":"nominal","scale":{"domain":["Determinacy","Indeterminacy"],"range":[[7,6],[3.5,2.5]]},"legend":{"title":null}},
"strokeWidth":{"field":"regime","type":"ordinal","scale":{"domain":["Determinacy","Indeterminacy"],"range":[1,3.5]},"legend":{"title":null}}}},
{"transform":[{"filter":"datum.regime==='Indeterminacy'"}],"mark":{"type":"line","color":"black","clip":true,"interpolate":"monotone","strokeWidth":1.4},"encoding":{
"x":{"field":"t","type":"quantitative","scale":{"domain":[0,20],"nice":false},"axis":{"orient":"top","labels":false,"values":[0,5,10,15,20],"title":null}},
"y":{"field":"v","type":"quantitative","scale":{"domain":[-0.004,0.44],"nice":false,"zero":false},"axis":null},
"strokeDash":{"field":"regime","type":"nominal","scale":{"domain":["Determinacy","Indeterminacy"],"range":[[7,6],[3.5,2.5]]},"legend":{"title":null}}}}
],"resolve":{"axis":{"x":"independent","y":"independent"}}},

{"width":226,"height":120,"data":{"name":"p33"},"transform":[{"fold":["Determinacy","Indeterminacy"],"as":["regime","v"]}],
"layer":[
{"mark":{"type":"rule","color":"black","strokeWidth":1},"encoding":{"y":{"datum":0,"type":"quantitative","scale":{"domain":[-0.723,0],"nice":false,"zero":false},"axis":{"orient":"right","labels":false,"title":null,"values":[-0.6,-0.4,-0.2]}}}},
{"transform":[{"filter":"datum.regime==='Determinacy'"}],"mark":{"type":"line","color":"black","clip":true,"interpolate":"monotone"},"encoding":{
"x":{"field":"t","type":"quantitative","scale":{"domain":[0,20],"nice":false},"axis":{"orient":"bottom","values":[0,5,10,15,20],"labelAlign":"center","labelBaseline":"top","labelPadding":19,"labelOffset":{"condition":{"test":"datum.value >= 10","value":9},"value":4},"title":null}},
"y":{"field":"v","type":"quantitative","scale":{"domain":[-0.723,0],"nice":false,"zero":false},"axis":{"orient":"left","values":[-0.6,-0.4,-0.2],"labelAlign":"center","labelBaseline":"middle","labelOffset":2,"labelPadding":{"condition":{"test":"datum.value < 0","value":17},"value":12},"labelExpr":"'' + datum.value","title":null}},
"strokeDash":{"field":"regime","type":"nominal","scale":{"domain":["Determinacy","Indeterminacy"],"range":[[7,6],[3.5,2.5]]},"legend":{"title":null}},
"strokeWidth":{"field":"regime","type":"ordinal","scale":{"domain":["Determinacy","Indeterminacy"],"range":[1,3.5]},"legend":{"title":null}}}},
{"transform":[{"filter":"datum.regime==='Indeterminacy'"}],"mark":{"type":"line","color":"black","clip":true,"interpolate":"monotone"},"encoding":{
"x":{"field":"t","type":"quantitative","scale":{"domain":[0,20],"nice":false},"axis":{"orient":"top","labels":false,"values":[0,5,10,15,20],"title":null}},
"y":{"field":"v","type":"quantitative","scale":{"domain":[-0.723,0],"nice":false,"zero":false},"axis":null},
"strokeDash":{"field":"regime","type":"nominal","scale":{"domain":["Determinacy","Indeterminacy"],"range":[[7,6],[3.5,2.5]]},"legend":{"title":null}},
"strokeWidth":{"field":"regime","type":"ordinal","scale":{"domain":["Determinacy","Indeterminacy"],"range":[1,3.5]},"legend":{"title":null}}}}
],"resolve":{"axis":{"x":"independent","y":"independent"}}},

{"width":226,"height":122.5,"data":{"name":"p41"},"transform":[{"fold":["Determinacy","Indeterminacy"],"as":["regime","v"]}],
"layer":[
{"mark":{"type":"rule","color":"black","strokeWidth":1},"encoding":{"y":{"datum":0,"type":"quantitative","scale":{"domain":[0,0.205],"nice":false,"zero":false},"axis":{"orient":"right","labels":false,"title":null,"values":[0,0.1,0.2]}}}},
{"transform":[{"filter":"datum.regime==='Determinacy'"}],"mark":{"type":"line","color":"black","clip":true,"interpolate":"monotone"},"encoding":{
"x":{"field":"t","type":"quantitative","scale":{"domain":[0,20],"nice":false},"axis":{"orient":"bottom","values":[0,5,10,15,20],"labelAlign":"center","labelBaseline":"top","labelPadding":19,"labelOffset":{"condition":{"test":"datum.value >= 10","value":9},"value":4},"title":null}},
"y":{"field":"v","type":"quantitative","scale":{"domain":[0,0.205],"nice":false,"zero":false},"axis":{"orient":"left","values":[0,0.1,0.2],"labelAlign":"center","labelBaseline":"middle","labelOffset":2,"labelPadding":{"condition":{"test":"datum.value < 0","value":17},"value":12},"labelExpr":"'' + datum.value","title":"Real rate","titleX":-23.3,"titleY":62}},
"strokeDash":{"field":"regime","type":"nominal","scale":{"domain":["Determinacy","Indeterminacy"],"range":[[7,6],[3.5,2.5]]},"legend":{"title":null}},
"strokeWidth":{"field":"regime","type":"ordinal","scale":{"domain":["Determinacy","Indeterminacy"],"range":[1,3.5]},"legend":{"title":null}}}},
{"transform":[{"filter":"datum.regime==='Indeterminacy'"}],"mark":{"type":"line","color":"black","clip":true,"interpolate":"monotone"},"encoding":{
"x":{"field":"t","type":"quantitative","scale":{"domain":[0,20],"nice":false},"axis":{"orient":"top","labels":false,"values":[0,5,10,15,20],"title":null}},
"y":{"field":"v","type":"quantitative","scale":{"domain":[0,0.205],"nice":false,"zero":false},"axis":null},
"strokeDash":{"field":"regime","type":"nominal","scale":{"domain":["Determinacy","Indeterminacy"],"range":[[7,6],[3.5,2.5]]},"legend":{"title":null}},
"strokeWidth":{"field":"regime","type":"ordinal","scale":{"domain":["Determinacy","Indeterminacy"],"range":[1,3.5]},"legend":{"title":null}}}}
],"resolve":{"axis":{"x":"independent","y":"independent"}}},

{"width":226,"height":122.5,"data":{"name":"p42"},"transform":[{"fold":["Determinacy","Indeterminacy"],"as":["regime","v"]}],
"layer":[
{"mark":{"type":"rule","color":"black","strokeWidth":1},"encoding":{"y":{"datum":0,"type":"quantitative","scale":{"domain":[0,0.2115],"nice":false,"zero":false},"axis":{"orient":"right","labels":false,"title":null,"values":[0.05,0.1,0.15,0.2]}}}},
{"transform":[{"filter":"datum.regime==='Determinacy'"}],"mark":{"type":"line","color":"black","clip":true,"interpolate":"monotone"},"encoding":{
"x":{"field":"t","type":"quantitative","scale":{"domain":[0,20],"nice":false},"axis":{"orient":"bottom","values":[0,5,10,15,20],"labelAlign":"center","labelBaseline":"top","labelPadding":19,"labelOffset":{"condition":{"test":"datum.value >= 10","value":9},"value":4},"title":null}},
"y":{"field":"v","type":"quantitative","scale":{"domain":[0,0.2115],"nice":false,"zero":false},"axis":{"orient":"left","values":[0.05,0.1,0.15,0.2],"labelAlign":"center","labelBaseline":"middle","labelOffset":2,"labelPadding":{"condition":{"test":"datum.value < 0","value":17},"value":12},"labelExpr":"'' + datum.value","title":null}},
"strokeDash":{"field":"regime","type":"nominal","scale":{"domain":["Determinacy","Indeterminacy"],"range":[[7,6],[3.5,2.5]]},"legend":{"title":null}},
"strokeWidth":{"field":"regime","type":"ordinal","scale":{"domain":["Determinacy","Indeterminacy"],"range":[1,3.5]},"legend":{"title":null}}}},
{"transform":[{"filter":"datum.regime==='Indeterminacy'"}],"mark":{"type":"line","color":"black","clip":true,"interpolate":"monotone"},"encoding":{
"x":{"field":"t","type":"quantitative","scale":{"domain":[0,20],"nice":false},"axis":{"orient":"top","labels":false,"values":[0,5,10,15,20],"title":null}},
"y":{"field":"v","type":"quantitative","scale":{"domain":[0,0.2115],"nice":false,"zero":false},"axis":null},
"strokeDash":{"field":"regime","type":"nominal","scale":{"domain":["Determinacy","Indeterminacy"],"range":[[7,6],[3.5,2.5]]},"legend":{"title":null}},
"strokeWidth":{"field":"regime","type":"ordinal","scale":{"domain":["Determinacy","Indeterminacy"],"range":[1,3.5]},"legend":{"title":null}}}}
],"resolve":{"axis":{"x":"independent","y":"independent"}}},

{"width":226,"height":122.5,"data":{"name":"p43"},"transform":[{"fold":["Determinacy","Indeterminacy"],"as":["regime","v"]}],
"layer":[
{"mark":{"type":"rule","color":"black","strokeWidth":1},"encoding":{"y":{"datum":0,"type":"quantitative","scale":{"domain":[-0.41,0.2],"nice":false,"zero":false},"axis":{"orient":"right","labels":false,"title":null,"values":[-0.4,-0.2,0,0.2]}}}},
{"transform":[{"filter":"datum.regime==='Determinacy'"}],"mark":{"type":"line","color":"black","clip":true,"interpolate":"monotone"},"encoding":{
"x":{"field":"t","type":"quantitative","scale":{"domain":[0,20],"nice":false},"axis":{"orient":"bottom","values":[0,5,10,15,20],"labelAlign":"center","labelBaseline":"top","labelPadding":19,"labelOffset":{"condition":{"test":"datum.value >= 10","value":9},"value":4},"title":null}},
"y":{"field":"v","type":"quantitative","scale":{"domain":[-0.41,0.2],"nice":false,"zero":false},"axis":{"orient":"left","values":[-0.4,-0.2,0,0.2],"labelAlign":"center","labelBaseline":"middle","labelOffset":2,"labelPadding":{"condition":{"test":"datum.value < 0","value":17},"value":12},"labelExpr":"'' + datum.value","title":null}},
"strokeDash":{"field":"regime","type":"nominal","scale":{"domain":["Determinacy","Indeterminacy"],"range":[[7,6],[3.5,2.5]]},"legend":{"title":null}},
"strokeWidth":{"field":"regime","type":"ordinal","scale":{"domain":["Determinacy","Indeterminacy"],"range":[1,3.5]},"legend":{"title":null}}}},
{"transform":[{"filter":"datum.regime==='Indeterminacy'"}],"mark":{"type":"line","color":"black","clip":true,"interpolate":"monotone"},"encoding":{
"x":{"field":"t","type":"quantitative","scale":{"domain":[0,20],"nice":false},"axis":{"orient":"top","labels":false,"values":[0,5,10,15,20],"title":null}},
"y":{"field":"v","type":"quantitative","scale":{"domain":[-0.41,0.2],"nice":false,"zero":false},"axis":null},
"strokeDash":{"field":"regime","type":"nominal","scale":{"domain":["Determinacy","Indeterminacy"],"range":[[7,6],[3.5,2.5]]},"legend":{"title":null}},
"strokeWidth":{"field":"regime","type":"ordinal","scale":{"domain":["Determinacy","Indeterminacy"],"range":[1,3.5]},"legend":{"title":null}}}}
],"resolve":{"axis":{"x":"independent","y":"independent"}}}
],
"config": {
"font": "Liberation Sans",
"view": {"stroke": "black", "strokeWidth": 1},
"axis": {"labelFontSize": 26, "labelColor": "black", "labelFont": "Liberation Sans", "tickColor": "black", "tickSize": -4, "tickWidth": 1, "domain": false, "grid": false, "labelFlush": false, "labelOverlap": false, "labelBound": false, "titleFontSize": 27, "titleFontWeight": "normal", "titleColor": "black", "titleFont": "Liberation Sans"},
"axisLeft": {"titleAngle": -90, "titleAlign": "center", "titleBaseline": "alphabetic"},
"legend": {"orient": "none", "legendX": 113, "legendY": 657, "direction": "horizontal", "columns": 2, "symbolType": "stroke", "symbolSize": 4489, "symbolStrokeColor": "black", "labelFontSize": 27, "labelColor": "black", "labelFont": "Liberation Sans", "labelOffset": 14, "columnPadding": -8, "padding": 16, "clipHeight": 27, "fillColor": "white", "strokeColor": "black", "labelLimit": 0}
}
}
